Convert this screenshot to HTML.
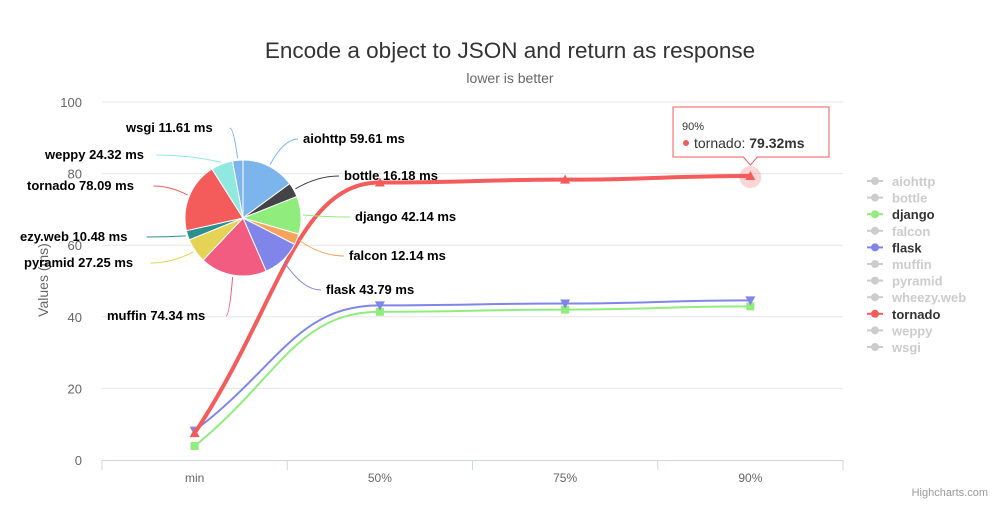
<!DOCTYPE html>
<html><head><meta charset="utf-8"><style>
body{margin:0;background:#fff;font-family:"Liberation Sans",sans-serif}
svg text{font-family:"Liberation Sans",sans-serif}
</style></head><body>
<svg id="c" width="1000" height="505" xmlns="http://www.w3.org/2000/svg">
<text x="510" y="58" text-anchor="middle" font-size="22.5" fill="#333">Encode a object to JSON and return as response</text>
<text x="510" y="83" text-anchor="middle" font-size="14" fill="#666">lower is better</text>
<text transform="translate(48,280) rotate(-90)" text-anchor="middle" font-size="14" fill="#666">Values (ms)</text>
<text x="988" y="496" text-anchor="end" font-size="11" fill="#999">Highcharts.com</text>
<g id="grid"></g><g id="lines"></g><g id="pie"></g><g id="legend"></g><g id="tip"></g>
</svg>
<script>
const categories=["min","50%","75%","90%"];
const yTicks=[0,20,40,60,80,100];
const tornado=[7.5,77.5,78.3,79.32];
const flask=[8.2,43.2,43.7,44.6];
const django=[3.9,41.4,42.0,42.9];
const pieNames=["aiohttp","bottle","django","falcon","flask","muffin","pyramid","wheezy.web","tornado","weppy","wsgi"];
const pieValues=[59.61,16.18,42.14,12.14,43.79,74.34,27.25,10.48,78.09,24.32,11.61];
const pieLabels=["aiohttp 59.61 ms","bottle 16.18 ms","django 42.14 ms","falcon 12.14 ms","flask 43.79 ms","muffin 74.34 ms","pyramid 27.25 ms","ezy.web 10.48 ms","tornado 78.09 ms","weppy 24.32 ms","wsgi 11.61 ms"];
const legendNames=["aiohttp","bottle","django","falcon","flask","muffin","pyramid","wheezy.web","tornado","weppy","wsgi"];
const legendActive=[false,false,true,false,true,false,false,false,true,false,false];

const NS="http://www.w3.org/2000/svg";
const X0=102,X1=843,Y0=460,Y1=102;
const bw=(X1-X0)/categories.length;
const xs=i=>X0+bw*(i+0.5);
const ys=v=>Y0-(v-0)/(100-0)*(Y0-Y1);
function mk(tag,attrs,parent){const e=document.createElementNS(NS,tag);for(const k in attrs)e.setAttribute(k,attrs[k]);parent.appendChild(e);return e;}
const grid=document.getElementById('grid');
yTicks.forEach(t=>{
 if(t>0){const l=mk('line',{x1:X0,x2:X1,y1:ys(t),y2:ys(t),stroke:'#e6e6e6'},grid);
 
 }
 const tx=mk('text',{x:X0-20,y:ys(t)+5,'text-anchor':'end','font-size':13,fill:'#666'},grid);tx.textContent=t;
 
 
});
const ax=mk('line',{x1:X0,x2:X1,y1:Y0+0.5,y2:Y0+0.5,stroke:'#ccd6eb'},grid);


for(let i=0;i<=categories.length;i++){const tk=mk('line',{x1:X0+bw*i,x2:X0+bw*i,y1:Y0,y2:Y0+10,stroke:'#ccd6eb'},grid);
 
 }
categories.forEach((c,i)=>{const t=mk('text',{x:xs(i),y:Y0+22,'text-anchor':'middle','font-size':12,fill:'#666'},grid);t.textContent=c;
 
 });

function spline(vals){
 const p=vals.map((v,i)=>[xs(i),ys(v)]);let d=`M${p[0][0]},${p[0][1]}`;
 for(let i=1;i<p.length;i++){const a=p[i-1],b=p[i];const dx=(b[0]-a[0])*0.45;
  d+=` C${a[0]+dx},${a[1]+(i===1?(b[1]-a[1])*0.5:0)} ${b[0]-dx},${b[1]} ${b[0]},${b[1]}`;}
 return d;}
const lines=document.getElementById('lines');
function series(vals,color,name,shape){
 const g=mk('g',{},lines);
 
 
 mk('path',{d:spline(vals),fill:'none',stroke:color,'stroke-width':name==='tornado'?4:2},g);
 vals.forEach((v,i)=>{const x=xs(i),y=ys(v);let m;
  if(shape==='sq')m=mk('rect',{x:x-4,y:y-4,width:8,height:8,fill:color},g);
  else if(shape==='tri')m=mk('path',{d:`M${x},${y-5}L${x+5},${y+4}L${x-5},${y+4}Z`,fill:color},g);
  else m=mk('path',{d:`M${x-5},${y-4}L${x+5},${y-4}L${x},${y+5}Z`,fill:color},g);
  
  });
 return g;}
series(django,'#90ed7d','django','sq');
series(flask,'#8085e9','flask','tri-down');
const hx=xs(3),hy=ys(tornado[3]);
mk('circle',{cx:hx,cy:hy+1,r:11,fill:'#f45b5b','fill-opacity':0.25},lines);
series(tornado,'#f45b5b','tornado','tri');

// pie
const pie=document.getElementById('pie');
const colors=["#7cb5ec","#434348","#90ed7d","#f7a35c","#8085e9","#f15c80","#e4d354","#2b908f","#f45b5b","#91e8e1","#7cb5ec"];
const cx=243,cy=218,R=58;const tot=pieValues.reduce((a,b)=>a+b,0);
let ang=0;
const lblPos=[[303,143],[344,180],[355,221],[349,260],[326,294],[107,320],[24,267],[20,241],[27,190],[45,159],[126,132]];
pieValues.forEach((v,i)=>{
 const a0=ang,a1=ang+v/tot*2*Math.PI;ang=a1;
 const p=(a)=>[cx+R*Math.sin(a),cy-R*Math.cos(a)];
 const s=p(a0),e=p(a1);
 const sl=mk('path',{d:`M${cx},${cy}L${s[0]},${s[1]}A${R},${R} 0 ${a1-a0>Math.PI?1:0} 1 ${e[0]},${e[1]}Z`,fill:colors[i],stroke:'#fff','stroke-width':1},pie);
 
 
 const am=(a0+a1)/2;const m=[cx+(R+2)*Math.sin(am),cy-(R+2)*Math.cos(am)];
 const lp=lblPos[i];const right=lp[0]>cx;
 const ex=right?lp[0]-5:lp[0]+ (pieLabels[i].length*7.6)+5;
 const cn=mk('path',{d:`M${m[0]},${m[1]} Q${(m[0]+ex)/2},${lp[1]-4} ${ex},${lp[1]-4}`,fill:'none',stroke:colors[i]},pie);
 
 
 const t=mk('text',{x:lp[0],y:lp[1],'font-size':13,'font-weight':'bold',fill:'#000'},pie);t.textContent=pieLabels[i];
 
 
});

// legend
const lg=document.getElementById('legend');
legendNames.forEach((n,i)=>{
 const y=186+i*16.6;const col=legendActive[i]?(n==='django'?'#90ed7d':n==='flask'?'#8085e9':'#f45b5b'):'#ccc';
 const g=mk('g',{},lg);
 
 
 mk('line',{x1:867,x2:883,y1:y-5,y2:y-5,stroke:col,'stroke-width':2},g);
 mk('circle',{cx:875,cy:y-5,r:4,fill:col},g);
 const t=mk('text',{x:892,y:y,'font-size':13,'font-weight':'bold',fill:legendActive[i]?'#333':'#ccc'},g);t.textContent=n;
});

// tooltip
const tp=document.getElementById('tip');


mk('path',{d:`M673,107 H829 V157 H${hx+7} L${hx},${hy-11} L${hx-7},157 H673 Z`,fill:'#fff','fill-opacity':0.92,stroke:'#f45b5b'},tp);
const t1=mk('text',{x:682,y:130,'font-size':11,fill:'#333'},tp);t1.textContent=categories[3];
mk('circle',{cx:686,cy:143,r:3,fill:'#f45b5b'},tp);
const t2=mk('text',{x:694,y:148,'font-size':14,fill:'#333'},tp);t2.innerHTML='tornado: <tspan font-weight="bold">'+tornado[3]+'ms</tspan>';
</script>
</body></html>
